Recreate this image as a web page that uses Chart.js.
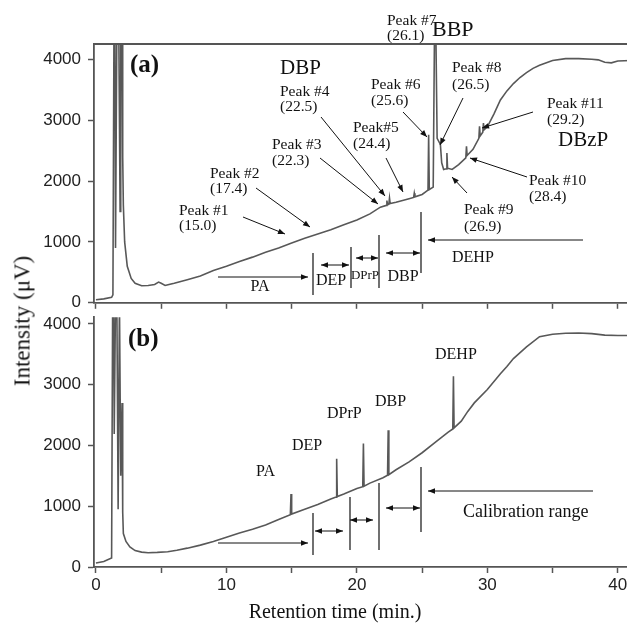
<!DOCTYPE html>
<html>
<head>
<meta charset="utf-8">
<script src="https://cdn.jsdelivr.net/npm/chart.js@4.4.0/dist/chart.umd.min.js"></script>
<style>
  html, body { margin: 0; padding: 0; background: #fff; overflow: hidden; }
  #wrap { position: relative; width: 627px; height: 625px; overflow: hidden; }
  canvas { position: absolute; left: 0; }
  #chartA { top: 0; }
  #chartB { top: 300px; }
  .axis-title { position: absolute; font-family: "Liberation Serif", "Times New Roman", serif; color: #111; white-space: nowrap; line-height: 1; }
  #xTitle { left: 335px; top: 601px; font-size: 20px; transform: translateX(-50%); }
  #yTitle { left: 22px; top: 321px; font-size: 23px; transform: translate(-50%, -50%) rotate(-90deg); }
</style>
</head>
<body>
<div id="wrap">
  <canvas id="chartA" width="640" height="320"></canvas>
  <canvas id="chartB" width="640" height="325"></canvas>
  <div class="axis-title" id="xTitle">Retention time (min.)</div>
  <div class="axis-title" id="yTitle">Intensity (μV)</div>
</div>
<script>
// axes
const xTicks = [0, 5, 10, 15, 20, 25, 30, 35, 40];
const xLabelled = [0, 10, 20, 30, 40];
const yTicks = [0, 1000, 2000, 3000, 4000];

// (a) sample chromatogram
const timeA = [0, 0.6, 1.2, 1.3, 1.38, 1.45, 1.5, 1.6, 1.75, 1.85, 1.9, 2.0, 2.05, 2.1, 2.2, 2.4, 2.7, 3.0, 3.5, 4.0,
  4.5, 4.8, 5.0, 5.3, 5.6, 6.0, 7, 8, 9, 10, 11, 12, 13, 14, 15, 16, 17, 18, 19, 20,
  21, 21.8, 22.25, 22.3, 22.35, 22.45, 22.5, 22.55, 23, 23.5, 24, 24.35, 24.4, 24.45, 25, 25.45, 25.5, 25.55, 25.85, 25.95,
  26.05, 26.15, 26.4, 26.5, 26.65, 26.85, 26.9, 26.95, 27.3, 27.8, 28.35, 28.4, 28.45, 28.9, 29.35, 29.4, 29.45, 29.65, 29.7, 29.75,
  30, 30.5, 31, 31.5, 32, 32.5, 33, 33.5, 34, 35, 36, 37, 38, 38.5, 39, 39.5, 40, 41];
const signalA = [50, 65, 90, 130, 4500, 4500, 900, 4500, 4500, 1500, 4500, 4500, 2400, 1600, 1000, 600, 400, 320, 280, 285,
  300, 340, 320, 285, 300, 320, 380, 440, 530, 600, 680, 750, 830, 900, 980, 1060, 1130, 1200, 1280, 1360,
  1460, 1570, 1600, 1680, 1610, 1620, 1720, 1630, 1650, 1680, 1710, 1730, 1800, 1740, 1780, 1850, 2760, 1860, 1900, 4500,
  4500, 2700, 2600, 2300, 2190, 2200, 2460, 2210, 2190, 2270, 2380, 2570, 2420, 2520, 2700, 2900, 2740, 2800, 2950, 2840,
  2890, 3100, 3330, 3480, 3600, 3700, 3780, 3850, 3900, 3980, 4010, 4010, 4000, 3990, 3950, 3940, 3970, 3980];

// (b) standard mixture chromatogram
const timeB = [0, 0.6, 1.2, 1.28, 1.35, 1.4, 1.5, 1.6, 1.7, 1.8, 1.9, 2.0, 2.05, 2.1, 2.3, 2.6, 3.0, 3.5, 4.0, 4.7,
  5.5, 6.2, 7, 8, 9, 10, 11, 12, 13, 14, 14.9, 14.95, 15.0, 16, 17, 18, 18.4, 18.45, 18.5, 19,
  20, 20.45, 20.5, 20.55, 21, 22, 22.35, 22.4, 22.45, 23, 24, 25, 26, 27, 27.35, 27.4, 27.45, 28, 28.5, 29,
  30, 31, 31.5, 32, 33, 34, 35, 36, 37, 38, 39, 40, 41];
const signalB = [65, 90, 150, 4400, 4400, 2190, 4400, 4400, 950, 4400, 1500, 2700, 900, 550, 420, 330, 270, 245, 235, 240,
  250, 275, 310, 360, 420, 490, 560, 620, 690, 780, 860, 1200, 870, 950, 1030, 1120, 1150, 1780, 1160, 1200,
  1290, 1320, 2030, 1330, 1380, 1470, 1510, 2250, 1520, 1600, 1730, 1880, 2050, 2220, 2270, 3140, 2290, 2400, 2560, 2700,
  2920, 3180, 3300, 3430, 3620, 3790, 3830, 3845, 3850, 3840, 3815, 3810, 3810];

const serif = '"Liberation Serif", "Times New Roman", serif';
const sans = '"Liberation Sans", Arial, sans-serif';
const ink = '#111';

// annotation texts: [text, x, y, size, align, bold] in page pixels
const notesA = {
  offsetY: 0,
  frame: true,
  texts: [
    ['(a)', 130, 66, 25, 'left', true],
    ['DBP', 280, 68, 21],
    ['Peak #4', 280, 92, 15.5], ['(22.5)', 280, 107, 15.5],
    ['Peak #3', 272, 145, 15.5], ['(22.3)', 272, 161, 15.5],
    ['Peak#5', 353, 128, 15.5], ['(24.4)', 353, 144, 15.5],
    ['Peak #6', 371, 85, 15.5], ['(25.6)', 371, 101, 15.5],
    ['Peak #7', 387, 21, 15.5], ['(26.1)', 387, 36, 15.5],
    ['BBP', 432, 30, 22],
    ['Peak #8', 452, 68, 15.5], ['(26.5)', 452, 85, 15.5],
    ['Peak #11', 547, 104, 15.5], ['(29.2)', 547, 120, 15.5],
    ['DBzP', 558, 140, 21],
    ['Peak #10', 529, 181, 15.5], ['(28.4)', 529, 197, 15.5],
    ['Peak #9', 464, 210, 15.5], ['(26.9)', 464, 227, 15.5],
    ['Peak #1', 179, 211, 15.5], ['(15.0)', 179, 226, 15.5],
    ['Peak #2', 210, 174, 15.5], ['(17.4)', 210, 189, 15.5],
    ['PA', 260, 287, 16, 'center'],
    ['DEP', 331, 281, 16, 'center'],
    ['DPrP', 365, 276, 13, 'center'],
    ['DBP', 403, 277, 16, 'center'],
    ['DEHP', 452, 258, 16]
  ],
  // [x1, y1, x2, y2, doubleHeaded]
  arrows: [
    [243, 217, 285, 234], [256, 188, 310, 227], [320, 158, 378, 204], [321, 117, 385, 196],
    [386, 158, 403, 192], [403, 112, 427, 137], [463, 98, 440, 145], [467, 193, 452, 177],
    [527, 177, 470, 158], [533, 112, 482, 128],
    [218, 277, 308, 277], [321, 265, 349, 265, true], [356, 258, 378, 258, true],
    [386, 253, 420, 253, true], [583, 240, 428, 240]
  ],
  // [x, y1, y2]
  bars: [[313, 253, 295], [351, 247, 288], [379, 235, 288], [421, 212, 273]]
};

const notesB = {
  offsetY: 300,
  frame: false,
  texts: [
    ['(b)', 128, 340, 25, 'left', true],
    ['PA', 256, 472, 16],
    ['DEP', 292, 446, 16],
    ['DPrP', 327, 414, 16],
    ['DBP', 375, 402, 16],
    ['DEHP', 435, 355, 16],
    ['Calibration range', 463, 512, 18]
  ],
  arrows: [
    [218, 543, 308, 543], [315, 531, 343, 531, true], [350, 520, 373, 520, true],
    [386, 508, 420, 508, true], [593, 491, 428, 491]
  ],
  bars: [[313, 513, 555], [350, 497, 550], [379, 483, 550], [421, 467, 532]]
};

function arrowHead(ctx, x1, y1, x2, y2) {
  const a = Math.atan2(y2 - y1, x2 - x1), L = 7, W = 2.8;
  ctx.beginPath();
  ctx.moveTo(x2, y2);
  ctx.lineTo(x2 - L * Math.cos(a) + W * Math.sin(a), y2 - L * Math.sin(a) - W * Math.cos(a));
  ctx.lineTo(x2 - L * Math.cos(a) - W * Math.sin(a), y2 - L * Math.sin(a) + W * Math.cos(a));
  ctx.closePath();
  ctx.fill();
}

function notesPlugin(notes) {
  return {
    id: 'notes',
    afterDraw(chart) {
      const ctx = chart.ctx, area = chart.chartArea, dy = notes.offsetY;
      ctx.save();
      if (notes.frame) {
        ctx.strokeStyle = '#555';
        ctx.lineWidth = 1.8;
        ctx.beginPath();
        ctx.moveTo(area.left, area.top);
        ctx.lineTo(area.right, area.top);
        ctx.stroke();
      }
      ctx.fillStyle = ink;
      ctx.strokeStyle = ink;
      ctx.lineWidth = 1;
      ctx.textBaseline = 'middle';
      notes.texts.forEach(([t, x, y, size, align, bold]) => {
        ctx.font = (bold ? 'bold ' : '') + size + 'px ' + serif;
        ctx.textAlign = align || 'left';
        ctx.fillText(t, x, y - dy);
      });
      notes.arrows.forEach(([x1, y1, x2, y2, both]) => {
        ctx.beginPath();
        ctx.moveTo(x1, y1 - dy);
        ctx.lineTo(x2, y2 - dy);
        ctx.stroke();
        arrowHead(ctx, x1, y1 - dy, x2, y2 - dy);
        if (both) arrowHead(ctx, x2, y2 - dy, x1, y1 - dy);
      });
      ctx.lineWidth = 1.2;
      notes.bars.forEach(([x, y1, y2]) => {
        ctx.beginPath();
        ctx.moveTo(x, y1 - dy);
        ctx.lineTo(x, y2 - dy);
        ctx.stroke();
      });
      ctx.restore();
    }
  };
}

function makeChart(id, times, signal, yMax, notes, bottomAxis) {
  const ctx = document.getElementById(id).getContext('2d');
  return new Chart(ctx, {
    type: 'line',
    data: {
      datasets: [{
        data: times.map((t, i) => ({ x: t, y: signal[i] })),
        borderColor: '#585858',
        borderWidth: 1.6,
        pointRadius: 0,
        tension: 0,
        fill: false
      }]
    },
    options: {
      responsive: false,
      animation: false,
      devicePixelRatio: 1,
      layout: { padding: { top: notes.offsetY === 0 ? 44 : 13, right: 0, left: 0, bottom: 0 } },
      plugins: { legend: { display: false }, tooltip: { enabled: false } },
      scales: {
        x: {
          type: 'linear',
          min: -0.15,
          max: 41.7,
          afterBuildTicks: s => { s.ticks = xTicks.map(v => ({ value: v })); },
          afterFit: s => { s.height = bottomAxis ? 58 : 16; },
          grid: { drawOnChartArea: false, tickLength: 6, tickColor: '#555', tickWidth: 1.5 },
          border: { color: '#555', width: 1.8 },
          ticks: {
            display: bottomAxis,
            autoSkip: false,
            maxRotation: 0,
            padding: 2,
            color: '#222',
            font: { family: sans, size: 17 },
            callback: v => xLabelled.includes(v) ? String(v) : ''
          }
        },
        y: {
          min: 0,
          max: yMax,
          afterBuildTicks: s => { s.ticks = yTicks.map(v => ({ value: v })); },
          afterFit: s => { s.width = 94; },
          grid: { drawOnChartArea: false, tickLength: 6, tickColor: '#555', tickWidth: 1.5 },
          border: { color: '#555', width: 1.8 },
          ticks: {
            padding: 7,
            color: '#222',
            font: { family: sans, size: 17 },
            callback: v => String(v)
          }
        }
      }
    },
    plugins: [notesPlugin(notes)]
  });
}

makeChart('chartA', timeA, signalA, 4250, notesA, false);
makeChart('chartB', timeB, signalB, 4110, notesB, true);
</script>
</body>
</html>
